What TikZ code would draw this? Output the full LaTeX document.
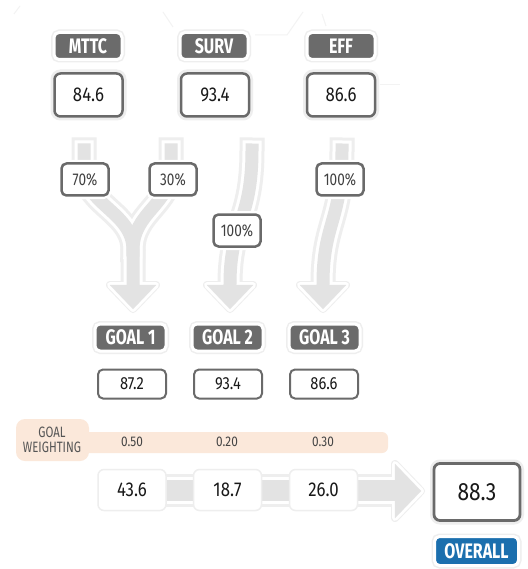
\documentclass[tikz,border=0pt]{standalone}
\usepackage{fontspec}
\setmainfont{Fira Sans}
\newfontfamily\labfont[FakeStretch=0.76]{Fira Sans}
\newfontfamily\numfont[FakeStretch=0.84]{Fira Sans}
\newfontfamily\pctfont[FakeStretch=0.8]{Fira Sans}
\definecolor{labgray}{HTML}{6B6B6B}
\definecolor{bordgray}{HTML}{6A6A6A}
\definecolor{arrowgray}{HTML}{E3E3E3}
\definecolor{shadowc}{HTML}{EEEEEE}
\definecolor{peach}{HTML}{FBE8DA}
\definecolor{wtext}{HTML}{555555}
\definecolor{overblue}{HTML}{1B6FAE}
\definecolor{faint}{HTML}{F3F3F3}
\tikzset{
  lab/.style={rectangle, rounded corners=5pt, fill=labgray, draw=white, line width=3pt,
    preaction={draw=shadowc, line width=6pt},
    minimum width=68pt, minimum height=27pt, inner sep=0pt, text=white,
    font=\labfont\bfseries\fontsize{21}{21}\selectfont},
  valbox/.style={rectangle, rounded corners=6pt, fill=white, draw=bordgray, line width=2.5pt,
    preaction={draw=shadowc, line width=8pt},
    minimum width=68pt, minimum height=43pt, inner sep=0pt, text=black!90,
    font=\numfont\fontsize{20}{20}\selectfont},
  pctbox/.style={rectangle, rounded corners=5pt, fill=white, draw=bordgray, line width=2.5pt,
    preaction={draw=white, line width=7pt},
    minimum width=47pt, minimum height=32pt, inner sep=0pt, text=black!75,
    font=\pctfont\fontsize{17}{17}\selectfont},
  goalval/.style={rectangle, rounded corners=5pt, fill=white, draw=bordgray, line width=2pt,
    minimum width=68pt, minimum height=29pt, inner sep=0pt, text=black!90,
    font=\numfont\fontsize{17.5}{17.5}\selectfont},
  wnum/.style={inner sep=0pt, text=wtext!80!black, font=\numfont\fontsize{14}{14}\selectfont},
  prodbox/.style={rectangle, rounded corners=6pt, fill=white, draw=shadowc, line width=1.5pt,
    minimum width=68pt, minimum height=41pt, inner sep=0pt, text=black!90,
    font=\numfont\fontsize{20}{20}\selectfont},
  faintline/.style={draw=faint, line width=1pt}
}
\begin{document}
\begin{tikzpicture}[x=1pt,y=-1pt]
\useasboundingbox[fill=white] (0,0) rectangle (527,569);
% faint decorative background lines
\draw[faintline] (163,12) -- (173,27);
\draw[faintline] (255,35) -- (287,35) -- (303,12);
\draw[faintline] (322,14) -- (326,26);
\draw[faintline] (380,85) -- (400,85);
\draw[faintline] (14,14) -- (20,6);
% ---- flow arrows (layered: shadow, white rim, gray body)
\foreach \w/\t/\c in {25/8/shadowc, 19/6/white, 13/0.1/arrowgray}{
  \draw[line width=\w pt, \c, line cap=rect]
    (84,150) -- (84,168) .. controls (84,205) and (133,212) .. (133,250) -- (133,284);
  \draw[line width=\w pt, \c, line cap=rect]
    (171,150) -- (171,168) .. controls (171,205) and (133,212) .. (133,250);
  \draw[line width=\w pt, \c, line cap=rect]
    (252,150) .. controls (252,222) and (230,222) .. (230,284);
  \draw[line width=\w pt, \c, line cap=rect]
    (342,150) .. controls (342,222) and (323,222) .. (323,284);
  \draw[line width=\t pt, \c, fill=\c, line join=round]
    (110,285) -- (156,285) -- (133,309) -- cycle;
  \draw[line width=\t pt, \c, fill=\c, line join=round]
    (207,285) -- (253,285) -- (230,309) -- cycle;
  \draw[line width=\t pt, \c, fill=\c, line join=round]
    (300,285) -- (346,285) -- (323,309) -- cycle;
  % bottom horizontal arrow
  \draw[line width=\w pt+8pt, \c, line cap=butt] (165,490) -- (396,490);
  \draw[line width=\t pt, \c, fill=\c, line join=round]
    (395,464) -- (421,491) -- (395,518) -- cycle;
}
% ---- top labels and values
\node[lab] (mttc) at (88,46) {MTTC};
\node[lab] (surv) at (214,46) {SURV};
\node[lab] (eff) at (341,46) {EFF};
\node[valbox] (v1) at (88.5,95) {84.6};
\node[valbox] (v2) at (215,95) {93.4};
\node[valbox] (v3) at (341,95) {86.6};
% ---- percentage labels
\node[pctbox] (p1) at (85,179.5) {70\%};
\node[pctbox] (p2) at (173,179.5) {30\%};
\node[pctbox] (p3) at (237,230.5) {100\%};
\node[pctbox] (p4) at (340,179.5) {100\%};
% ---- goals
\node[lab, minimum width=71pt] (g1) at (130.5,337.5) {GOAL 1};
\node[lab, minimum width=71pt] (g2) at (227.5,337.5) {GOAL 2};
\node[lab, minimum width=71pt] (g3) at (324.5,337.5) {GOAL 3};
\node[goalval] (gv1) at (132,384) {87.2};
\node[goalval] (gv2) at (228,384) {93.4};
\node[goalval] (gv3) at (324,384) {86.6};
% ---- goal weighting band
\fill[peach, rounded corners=6pt] (60,432) rectangle (388,453);
\fill[peach, rounded corners=9pt] (16,419) rectangle (89,461);
\node[align=center, inner sep=0pt, text=wtext, font=\labfont\fontsize{15}{15.5}\selectfont]
  (gw) at (52,440) {GOAL\\WEIGHTING};
\node[wnum] (w1) at (132,442) {0.50};
\node[wnum] (w2) at (227,442) {0.20};
\node[wnum] (w3) at (323,442) {0.30};
% ---- weighted products
\node[prodbox] (b1) at (132,490) {43.6};
\node[prodbox] (b2) at (227.5,490) {18.7};
\node[prodbox] (b3) at (323.5,490) {26.0};
% ---- overall
\node[valbox, minimum width=86pt, minimum height=57pt, line width=2.8pt,
  font=\numfont\fontsize{25}{25}\selectfont] (ov) at (477,492) {88.3};
\node[lab, fill=overblue, minimum width=84pt, minimum height=29pt,
  font=\labfont\bfseries\fontsize{21}{21}\selectfont] (ovl) at (476.5,551) {OVERALL};
\end{tikzpicture}
\end{document}
